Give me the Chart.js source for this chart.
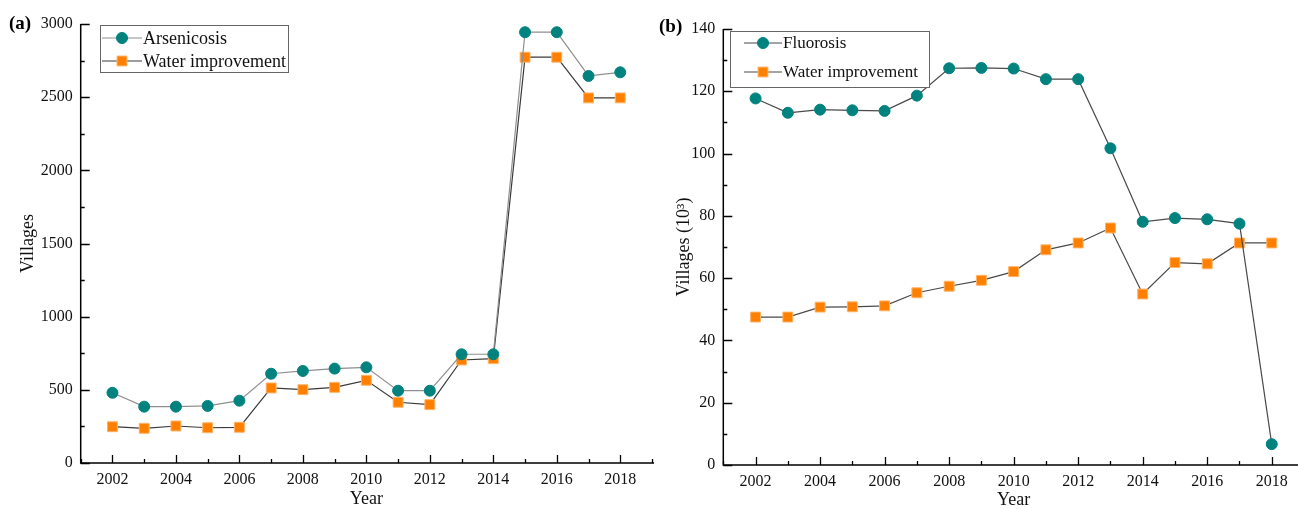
<!DOCTYPE html>
<html>
<head>
<meta charset="utf-8">
<script src="https://cdn.jsdelivr.net/npm/chart.js@4.4.0/dist/chart.umd.min.js"></script>
<style>
    body { margin: 0; background: #fff; }
    #wrap { position: relative; width: 1298px; height: 509px; overflow: hidden; }
    #chartA { position: absolute; left: 0; top: 0; }
    #chartB { position: absolute; left: 650px; top: 0; }
</style>
</head>
<body>
<div id="wrap">
    <canvas id="chartA" width="660" height="509"></canvas>
    <canvas id="chartB" width="662" height="509"></canvas>
</div>
<script>
// --- data ---
const years = [2002, 2003, 2004, 2005, 2006, 2007, 2008, 2009, 2010, 2011, 2012, 2013, 2014, 2015, 2016, 2017, 2018];
const yearTicks = [2002, 2004, 2006, 2008, 2010, 2012, 2014, 2016, 2018];

// (a) villages
const arsenicosis = [480, 385, 385, 390, 426, 610, 629, 645, 654, 494, 494, 743, 743, 2944, 2944, 2645, 2670];
const waterA = [248, 237, 253, 241, 244, 513, 501, 517, 565, 415, 399, 704, 713, 2773, 2773, 2495, 2495];
const ticksA = [0, 500, 1000, 1500, 2000, 2500, 3000];

// (b) villages (10^3)
const fluorosis = [117.7, 113.1, 114.1, 113.9, 113.7, 118.6, 127.4, 127.5, 127.3, 123.9, 123.9, 101.7, 78.1, 79.3, 78.9, 77.5, 6.7];
const waterB = [47.5, 47.5, 50.7, 50.8, 51.1, 55.3, 57.4, 59.3, 62.1, 69.1, 71.3, 76.1, 54.9, 65.0, 64.6, 71.3, 71.3];
const ticksB = [0, 20, 40, 60, 80, 100, 120, 140];

const FONT = "'Liberation Serif', 'Times New Roman', serif";
const TEAL = '#00827f';
const ORANGE = '#ff8000';

// Origin-style axes: inward ticks, minor ticks, legend box, panel label
function drawMarker(ctx, ds, cx, cy) {
    ctx.fillStyle = ds.pointBackgroundColor;
    ctx.strokeStyle = ds.pointBorderColor;
    ctx.lineWidth = ds.pointBorderWidth;
    ctx.beginPath();
    if (ds.pointStyle === 'rect') {
        const h = ds.pointRadius * Math.SQRT1_2;
        ctx.rect(cx - h, cy - h, 2 * h, 2 * h);
    } else {
        ctx.arc(cx, cy, ds.pointRadius, 0, Math.PI * 2);
    }
    ctx.fill();
    ctx.stroke();
}

const originAxes = {
    id: 'originAxes',
    afterDraw(chart, args, opts) {
        const { ctx, chartArea: a, scales: { x, y } } = chart;
        ctx.save();

        // axis lines
        ctx.strokeStyle = '#000';
        ctx.lineWidth = 1.5;
        ctx.beginPath();
        ctx.moveTo(a.left, a.top);
        ctx.lineTo(a.left, a.bottom);
        ctx.lineTo(a.right + 2, a.bottom);
        ctx.stroke();

        // tick marks (pointing inward)
        ctx.lineWidth = 1.3;
        ctx.beginPath();
        const isMajor = (scale, v) => scale.ticks.some(t => Math.abs(t.value - v) < 1e-6);
        for (let v = x.min; v <= x.max + 1e-6; v += opts.xMinor) {
            const px = Math.round(x.getPixelForValue(v)) + 0.5;
            const len = isMajor(x, v) ? 8 : 4;
            ctx.moveTo(px, a.bottom);
            ctx.lineTo(px, a.bottom - len);
        }
        for (let v = y.min; v <= y.max + 1e-6; v += opts.yMinor) {
            const py = Math.round(y.getPixelForValue(v)) + 0.5;
            const len = isMajor(y, v) ? 9 : 4;
            ctx.moveTo(a.left, py);
            ctx.lineTo(a.left + len, py);
        }
        ctx.stroke();

        // legend box
        const lg = opts.legend;
        ctx.fillStyle = '#fff';
        ctx.fillRect(lg.x, lg.y, lg.w, lg.h);
        ctx.strokeStyle = '#666';
        ctx.lineWidth = 1;
        ctx.strokeRect(lg.x + 0.5, lg.y + 0.5, lg.w, lg.h);
        chart.data.datasets.forEach((ds, i) => {
            const ry = lg.rows[i];
            ctx.strokeStyle = ds.borderColor;
            ctx.lineWidth = 1.2;
            ctx.beginPath();
            ctx.moveTo(lg.lineX0, ry);
            ctx.lineTo(lg.lineX1, ry);
            ctx.stroke();
            drawMarker(ctx, ds, (lg.lineX0 + lg.lineX1) / 2, ry);
            ctx.fillStyle = '#111';
            ctx.font = `${lg.fontSize}px ${FONT}`;
            ctx.textBaseline = 'middle';
            ctx.textAlign = 'left';
            ctx.fillText(ds.label, lg.lineX1 + 1, ry + 1);
        });

        // panel label
        ctx.fillStyle = '#000';
        ctx.font = `bold 19px ${FONT}`;
        ctx.textBaseline = 'middle';
        ctx.fillText(opts.label.text, opts.label.x, opts.label.y);

        ctx.restore();
    }
};

function makeChart(id, cfg) {
    const makeSet = (label, values, color, style, radius, border, lineColor) => ({
        label: label,
        data: years.map((yr, i) => ({ x: yr, y: values[i] })),
        borderColor: lineColor,
        borderWidth: 1.2,
        pointStyle: style,
        pointRadius: radius,
        pointHoverRadius: radius,
        pointBackgroundColor: color,
        pointBorderColor: border,
        pointBorderWidth: 1,
        tension: 0,
        fill: false
    });

    return new Chart(document.getElementById(id), {
        type: 'line',
        data: {
            datasets: [
                makeSet(cfg.names[0], cfg.series[0], TEAL, 'circle', 5.5, TEAL, cfg.lineColors[0]),
                makeSet(cfg.names[1], cfg.series[1], ORANGE, 'rect', 7, '#ffb366', cfg.lineColors[1])
            ]
        },
        options: {
            responsive: false,
            animation: false,
            layout: { padding: cfg.padding },
            plugins: {
                legend: { display: false },
                tooltip: { enabled: false },
                originAxes: cfg.axes
            },
            scales: {
                x: {
                    type: 'linear',
                    min: 2001,
                    max: 2019,
                    afterBuildTicks: s => { s.ticks = yearTicks.map(v => ({ value: v })); },
                    afterFit: s => { s.height = cfg.xHeight; },
                    grid: { display: false, drawTicks: false },
                    border: { display: false },
                    ticks: {
                        color: '#111',
                        padding: 7,
                        autoSkip: false,
                        maxRotation: 0,
                        font: { family: FONT, size: 16 },
                        callback: v => String(v)
                    },
                    title: {
                        display: true,
                        text: 'Year',
                        color: '#111',
                        font: { family: FONT, size: 18, lineHeight: 1 },
                        padding: { top: 0, bottom: cfg.xTitlePad }
                    }
                },
                y: {
                    min: cfg.yTicks[0],
                    max: cfg.yTicks[cfg.yTicks.length - 1],
                    afterBuildTicks: s => { s.ticks = cfg.yTicks.map(v => ({ value: v })); },
                    afterFit: s => { s.width = cfg.yWidth; },
                    grid: { display: false, drawTicks: false },
                    border: { display: false },
                    ticks: {
                        color: '#111',
                        padding: 8,
                        font: { family: FONT, size: 16 },
                        callback: v => String(v)
                    },
                    title: {
                        display: true,
                        text: cfg.yTitle,
                        color: '#111',
                        font: { family: FONT, size: 18, lineHeight: 1.2 },
                        padding: { top: cfg.yTitlePad, bottom: 0 }
                    }
                }
            }
        },
        plugins: [originAxes]
    });
}

makeChart('chartA', {
    names: ['Arsenicosis', 'Water improvement'],
    series: [arsenicosis, waterA],
    lineColors: ['#8f8f8f', '#3a3a3a'],
    yTicks: ticksA,
    yTitle: 'Villages',
    yTitlePad: 17,
    yWidth: 80.7,
    xHeight: 46,
    xTitlePad: 1,
    padding: { top: 24, right: 7, left: 0, bottom: 0 },
    axes: {
        xMinor: 1,
        yMinor: 250,
        legend: { x: 100, y: 25, w: 188, h: 47, rows: [38, 61], lineX0: 102, lineX1: 142, fontSize: 18 },
        label: { text: '(a)', x: 9, y: 24 }
    }
});

makeChart('chartB', {
    names: ['Fluorosis', 'Water improvement'],
    series: [fluorosis, waterB],
    lineColors: ['#4a4a4a', '#4a4a4a'],
    yTicks: ticksB,
    yTitle: 'Villages (10³)',
    yTitlePad: 23,
    yWidth: 73.3,
    xHeight: 44,
    xTitlePad: 0,
    padding: { top: 29, right: 4, left: 0, bottom: 0 },
    axes: {
        xMinor: 1,
        yMinor: 10,
        legend: { x: 80, y: 31, w: 199, h: 56, rows: [43, 72], lineX0: 94, lineX1: 132, fontSize: 17 },
        label: { text: '(b)', x: 9, y: 27 }
    }
});
</script>
</body>
</html>
